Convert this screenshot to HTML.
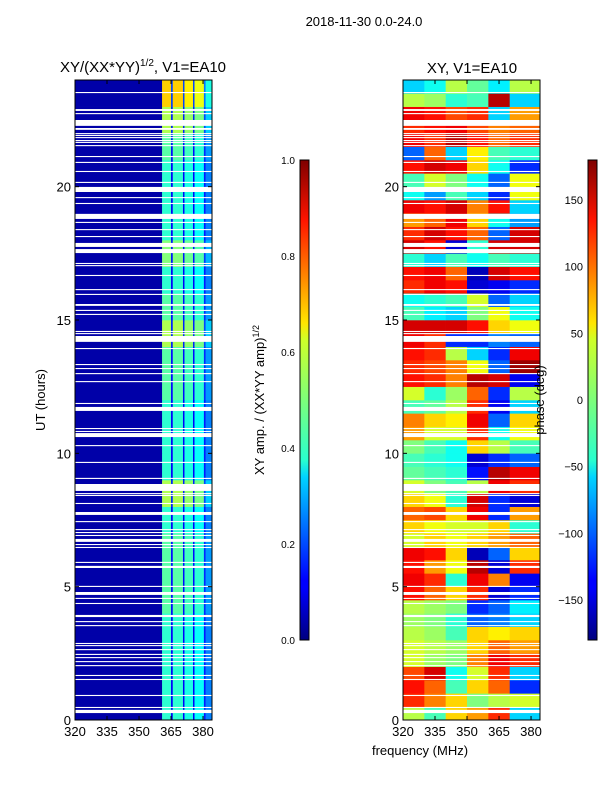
<!DOCTYPE html>
<html><head><meta charset="utf-8"><style>
body{margin:0;background:#fff;}
svg{display:block;font-family:"Liberation Sans",sans-serif;}
</style></head><body>
<svg id="fig" width="600" height="800" viewBox="0 0 600 800">
<defs>
<linearGradient id="jet" x1="0" y1="1" x2="0" y2="0">
<stop offset="0" stop-color="#00007f"/><stop offset="0.11" stop-color="#0000ff"/>
<stop offset="0.125" stop-color="#0000ff"/><stop offset="0.34" stop-color="#00d4ff"/>
<stop offset="0.375" stop-color="#29ffce"/><stop offset="0.5" stop-color="#7dff7a"/>
<stop offset="0.625" stop-color="#ceff29"/><stop offset="0.66" stop-color="#ffe500"/>
<stop offset="0.875" stop-color="#ff1400"/><stop offset="1" stop-color="#7f0000"/>
</linearGradient>
</defs>
<text x="364" y="26" font-size="13" text-anchor="middle">2018-11-30 0.0-24.0</text>
<text x="143" y="72" font-size="15" text-anchor="middle">XY/(XX*YY)<tspan font-size="10" dy="-6">1/2</tspan><tspan dy="6">, V1=EA10</tspan></text>
<text x="472" y="73" font-size="15" text-anchor="middle">XY, V1=EA10</text>
<g id="left"></g>
<g id="right"></g>
<g id="axes"></g>
<text transform="translate(45,400) rotate(-90)" font-size="13" text-anchor="middle">UT (hours)</text>
<text transform="translate(264,400) rotate(-90)" font-size="13" text-anchor="middle">XY amp. / (XX*YY amp)<tspan font-size="9" dy="-5">1/2</tspan></text>
<text transform="translate(544,400) rotate(-90)" font-size="13" text-anchor="middle">phase (deg)</text>
<text x="420" y="755" font-size="13" text-anchor="middle">frequency (MHz)</text>
<rect x="300" y="160" width="9" height="480" fill="url(#jet)" stroke="#000" stroke-width="1"/>
<rect x="588" y="160" width="9" height="480" fill="url(#jet)" stroke="#000" stroke-width="1"/>
</svg>
<script>
const xTicks=[320,335,350,365,380];
const yTicks=[0,5,10,15,20];
const ampTicks=[0.0,0.2,0.4,0.6,0.8,1.0];
const phaseTicks=[-150,-100,-50,0,50,100,150];
const ampColEdges=[320,360.8,365,365.8,370.6,371.3,375.3,376,380.4,381.2,384.2];
const ampColLevel=[0.04,0.42,0.12,0.42,0.12,0.40,0.12,0.38,0.15,0.25];
const ampRowLevel=[1.0,1.0,1.0,1.0,1.1,1.1,1.1,1.0,1.3,1.0,1.0,1.0,1.1,1.1,1.3,1.1,1.0,1.2,1.0,1.0,1.0,1.1,1.3,1.6];
const phaseColEdges=[320,330,340,350,360,370,384.2];
const phaseRows=[
[20,-20,60,80,120,-60],[120,90,60,0,20,30],[130,100,-20,60,100,-120],[110,150,-40,30,120,-60],
[30,10,0,90,140,120],[30,20,10,60,100,80],[20,10,-20,60,50,60],[10,0,-30,-100,-90,-60],
[20,10,0,-120,-100,-50],[130,100,60,120,-150,-120],[140,120,-30,140,90,-140],[130,80,40,160,-150,120],
[140,130,60,-160,-100,60],[30,60,40,60,80,100],[60,40,30,30,60,-30],[100,110,60,140,-120,80],
[60,40,-30,150,-120,-150],[30,0,-20,20,140,120],[-10,-20,-30,-130,160,140],[-20,-30,-40,-150,-120,-100],
[0,-20,-40,60,20,-20],[80,30,30,120,-40,40],[90,60,50,140,-100,60],[-20,-10,20,120,-140,-60],
[30,-30,10,100,-120,20],[130,120,90,160,150,-140],[120,110,90,40,-100,170],[130,120,20,-60,-120,140],
[140,120,-120,-120,-90,-100],[150,150,150,130,60,40],[-20,-50,-60,0,40,-40],[-40,-30,-20,30,-100,-60],
[120,140,130,-150,-140,-120],[130,140,100,-160,150,130],[-30,-60,-20,-40,-20,-30],[150,130,-150,-30,150,150],
[120,150,130,100,-100,150],[80,100,140,60,-40,-80],[140,130,150,90,130,-60],[-40,-80,-20,-60,-120,40],
[-20,30,0,-40,-100,40],[130,150,140,60,-40,-120],[-100,100,-60,50,-20,-30],[140,120,160,130,100,120],
[120,130,140,110,90,100],[140,130,110,120,-60,80],[20,10,-30,-20,160,-60],[-60,-40,20,-10,-50,20]];
const gaps=[[23.51,23.55],[22.84,22.91],[22.73,22.76],[22.28,22.5],[22.13,22.2],[21.98,22.01],[21.9,21.94],[21.83,21.86],[21.71,21.75],[21.64,21.68],[21.53,21.56],[21.11,21.15],[20.89,20.93],[20.55,20.59],[20.14,20.18],[19.8,19.99],[19.58,19.61],[19.35,19.39],[18.79,18.98],[18.64,18.68],[18.38,18.41],[18.11,18.15],[17.74,17.89],[17.51,17.66],[17.1,17.14],[17.03,17.06],[16.65,16.69],[16.13,16.16],[15.94,15.98],[15.53,15.6],[15.34,15.38],[15.19,15.23],[14.55,14.59],[14.48,14.51],[14.18,14.4],[13.91,13.95],[13.31,13.35],[13.16,13.2],[12.98,13.01],[12.68,12.71],[11.85,11.89],[11.59,11.74],[10.91,10.95],[10.8,10.84],[10.61,10.76],[10.28,10.31],[9.64,9.68],[9.04,9.08],[8.59,8.85],[8.48,8.51],[8.4,8.44],[8.1,8.14],[7.69,7.8],[7.43,7.46],[7.13,7.16],[7.01,7.05],[6.9,6.94],[6.68,6.79],[6.56,6.6],[6.45,6.49],[5.89,5.93],[5.7,5.78],[4.99,5.03],[4.69,4.8],[4.54,4.58],[4.35,4.39],[3.86,3.94],[3.68,3.71],[3.53,3.56],[2.85,2.89],[2.78,2.81],[2.63,2.66],[2.44,2.48],[2.33,2.36],[2.18,2.21],[2.03,2.06],[1.65,1.69],[1.5,1.54],[0.9,0.94],[0.45,0.49],[0.26,0.38]];

const NS='http://www.w3.org/2000/svg';
function jet(t){t=Math.max(0,Math.min(1,t));
 const f=(x)=>Math.max(0,Math.min(1,1.5-Math.abs(4*t-x)));
 return 'rgb('+Math.round(255*f(3))+','+Math.round(255*f(2))+','+Math.round(255*f(1))+')';}
function yS(h){return 720-h*640/24;}
const PX=137/64.2;
function xL(f){return 75+(f-320)*PX;}
function xR(f){return 403+(f-320)*PX;}
function mk(tag,parent,attrs){const e=document.createElementNS(NS,tag);for(const k in attrs)e.setAttribute(k,attrs[k]);parent.appendChild(e);return e;}
const L=document.getElementById('left'),R=document.getElementById('right'),A=document.getElementById('axes');
ampRowLevel.forEach((m,r)=>{
 ampColLevel.forEach((v,c)=>{
  const x0=xL(ampColEdges[c]),x1=xL(ampColEdges[c+1]);
  const e=mk('rect',L,{x:x0,y:yS(r+1),width:x1-x0+0.3,height:yS(r)-yS(r+1)+0.3,fill:jet(c===0?v:v*m)});
  
  
 });
});
phaseRows.forEach((row,r)=>{
 row.forEach((v,c)=>{
  const x0=xR(phaseColEdges[c]),x1=xR(phaseColEdges[c+1]);
  const e=mk('rect',R,{x:x0,y:yS((r+1)/2),width:x1-x0+0.3,height:yS(r/2)-yS((r+1)/2)+0.3,fill:jet((v+180)/360)});
  
  
 });
});
[[L,75],[R,403]].forEach(([g,x0])=>{
 gaps.forEach(([a,b])=>{
  const e=mk('rect',g,{x:x0,y:yS(b),width:137,height:Math.max(1.1,yS(a)-yS(b)),fill:'#fff'});
  
  
 });
});
[[75,xL],[403,xR]].forEach(([x0,xs])=>{
 const fr=mk('rect',A,{x:x0,y:80,width:137,height:640,fill:'none',stroke:'#000','stroke-width':1});
 
 
 xTicks.forEach(t=>{const x=xs(t);
  mk('line',A,{x1:x,x2:x,y1:720,y2:716,stroke:'#000'});mk('line',A,{x1:x,x2:x,y1:80,y2:84,stroke:'#000'});
  const tx=mk('text',A,{x:x,y:736,'font-size':13,'text-anchor':'middle'});tx.textContent=t;
  
  
 });
 yTicks.forEach(t=>{const y=yS(t);
  mk('line',A,{x1:x0,x2:x0+4,y1:y,y2:y,stroke:'#000'});mk('line',A,{x1:x0+137,x2:x0+133,y1:y,y2:y,stroke:'#000'});
  const tx=mk('text',A,{x:x0-4,y:y+5,'font-size':13,'text-anchor':'end'});tx.textContent=t;
  
  
 });
});
ampTicks.forEach(t=>{const y=640-t*480;
 mk('line',A,{x1:300,x2:304,y1:y,y2:y,stroke:'#000'});
 const tx=mk('text',A,{x:295,y:y+4,'font-size':10,'text-anchor':'end'});tx.textContent=t.toFixed(1);
 
 
});
phaseTicks.forEach(t=>{const y=400-t*240/180;
 mk('line',A,{x1:588,x2:592,y1:y,y2:y,stroke:'#000'});
 const tx=mk('text',A,{x:583,y:y+4,'font-size':11,'text-anchor':'end'});tx.textContent=t<0?'\u2212'+(-t):t;
 
 
});
</script>
</body></html>
